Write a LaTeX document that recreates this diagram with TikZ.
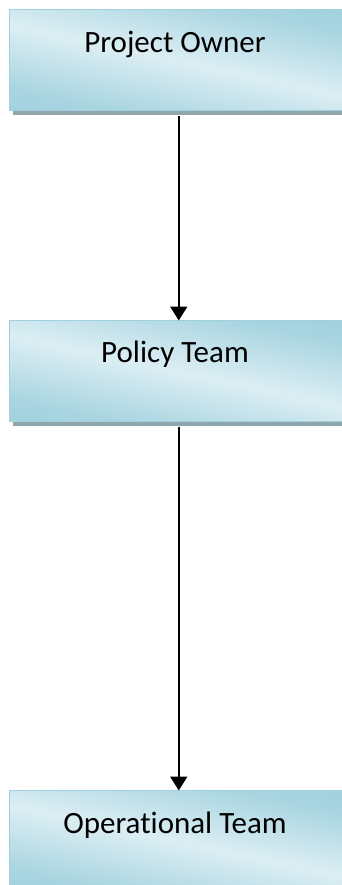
\documentclass[tikz,border=0pt]{standalone}
\usepackage{fontspec}
\setmainfont[Ligatures=NoCommon]{Carlito}
\usetikzlibrary{arrows.meta,shadows}
\definecolor{boxlight}{HTML}{DCEEF4}
\definecolor{boxdark}{HTML}{92CAD8}
\definecolor{boxedge}{HTML}{9FD2DE}
\definecolor{shadowgray}{HTML}{8FA6AD}
\pgfdeclareverticalshading{boxshade}{100bp}{color(0bp)=(boxdark); color(28bp)=(boxdark!70!boxlight); color(50bp)=(boxlight); color(72bp)=(boxdark!70!boxlight); color(100bp)=(boxdark)}
\begin{document}
\begin{tikzpicture}[x=1pt,y=-1pt,
  teambox/.style={draw=boxedge, line width=1pt, shading=boxshade, shading angle=-12,
    minimum width=333.5pt, minimum height=101pt, anchor=north west, inner sep=0pt,
    drop shadow={shadow xshift=3.5pt, shadow yshift=-4.5pt, fill=shadowgray, opacity=1}},
  teamlabel/.style={anchor=base, font=\fontsize{31}{37}\selectfont, text=black, inner sep=0pt},
  link/.style={line width=2pt, -{Triangle[width=17pt,length=14pt]}}]
\useasboundingbox (0,0) rectangle (342,885);
\node[teambox] (b1) at (8.5,9.5) {};
\node[teambox] (b2) at (8.5,320) {};
\node[teambox] (b3) at (8.5,790) {};
\node[teamlabel] (t1) at (175,52.5) {Project Owner};
\node[teamlabel] (t2) at (175,362) {Policy Team};
\node[teamlabel] (t3) at (175,833) {Operational Team};
\coordinate (s1) at ([xshift=3pt,yshift=-4.5pt]b1.south);
\coordinate (e1) at ([xshift=3pt,yshift=-0.5pt]b2.north);
\coordinate (s2) at ([xshift=3pt,yshift=-4.5pt]b2.south);
\coordinate (e2) at ([xshift=3pt,yshift=-0.5pt]b3.north);
\draw[link] (s1) -- (e1);
\draw[link] (s2) -- (e2);
\end{tikzpicture}
\end{document}
